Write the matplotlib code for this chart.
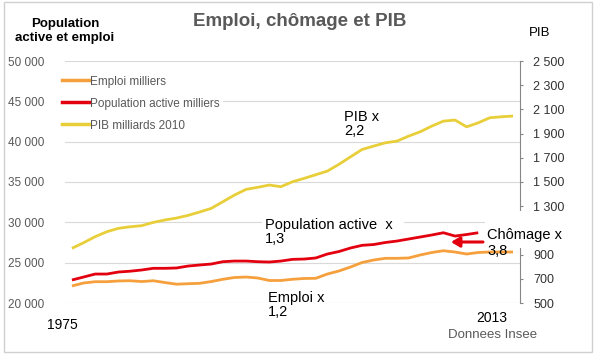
import matplotlib

matplotlib.use("Agg")
import matplotlib.pyplot as plt
from matplotlib.lines import Line2D
from matplotlib.patches import Rectangle

plt.rcParams["font.family"] = ["Liberation Sans", "DejaVu Sans"]

years = list(range(1975, 2014))

# Emploi (milliers)
emploi = [22110, 22480, 22640, 22640, 22730, 22760, 22660, 22760, 22540, 22330,
          22390, 22440, 22660, 22940, 23160, 23220, 23100, 22790, 22790, 22940,
          23040, 23060, 23590, 23970, 24460, 25020, 25330, 25540, 25540, 25580,
          25950, 26260, 26480, 26320, 26070, 26260, 26320, 26320, 26320]

# Population active (milliers), serie arretee en 2010
pop_years = list(range(1975, 2011))
pop_active = [22850, 23220, 23590, 23590, 23840, 23940, 24090, 24300, 24300, 24340,
              24580, 24710, 24830, 25120, 25200, 25200, 25120, 25080, 25200, 25410,
              25450, 25580, 26070, 26380, 26820, 27150, 27250, 27500, 27680, 27930,
              28180, 28430, 28710, 28300, 28490, 28710]

# PIB (milliards 2010)
pib = [952, 998, 1048, 1089, 1117, 1130, 1139, 1166, 1186, 1202,
       1224, 1252, 1282, 1337, 1392, 1439, 1456, 1475, 1461, 1502,
       1530, 1560, 1590, 1646, 1708, 1769, 1797, 1824, 1838, 1879,
       1915, 1962, 2003, 2012, 1956, 1989, 2031, 2039, 2045]

left_ticks = [20000, 25000, 30000, 35000, 40000, 45000, 50000]
right_ticks = [500, 700, 900, 1100, 1300, 1500, 1700, 1900, 2100, 2300, 2500]
hidden_right = [1100]  # masque par le cadre "Chômage"

C_EMPLOI = "#F5A03C"
C_POP = "#E3000F"
C_PIB = "#E8CF3A"
GRAY = "#595959"


def fmt(v):
    return f"{v:,}".replace(",", " ")


W, H = 600, 358


def fx(px):
    return px / W


def fy(py):
    return 1 - py / H


fig = plt.figure(figsize=(6, 3.58), dpi=100)
fig.patches.append(Rectangle((fx(4), fy(352)), fx(588), 350 / H, transform=fig.transFigure,
                             fill=False, edgecolor="#D0D0D0", lw=1))

ax = fig.add_axes([fx(65), fy(303), fx(455), 242 / H])
ax2 = ax.twinx()

ax.plot(years, emploi, color=C_EMPLOI, lw=2.0, solid_capstyle="butt", zorder=2)
ax.plot(pop_years, pop_active, color=C_POP, lw=2.0, solid_capstyle="butt", zorder=2)
ax2.plot(years, pib, color=C_PIB, lw=2.0, solid_capstyle="butt")

ax.set_xlim(1974.4, 2013.6)
ax.set_ylim(20000, 50000)
ax2.set_ylim(500, 2500)

ax.set_yticks(left_ticks)
ax.set_yticklabels([fmt(v) for v in left_ticks], fontsize=8.5, color=GRAY)
ax.tick_params(axis="y", length=0, pad=15)
ax.set_xticks([])
ax.grid(axis="y", color="#D9D9D9", lw=0.8)
ax.set_axisbelow(True)

ax2.set_yticks(right_ticks)
ax2.set_yticklabels(["" if v in hidden_right else fmt(v) for v in right_ticks],
                    fontsize=9, color="#333333")
ax2.tick_params(axis="y", length=2.5, width=0.8, color="#868686", pad=7)

for a in (ax, ax2):
    for s in ("top", "left", "bottom", "right"):
        a.spines[s].set_visible(False)
ax2.spines["right"].set_visible(True)
ax2.spines["right"].set_color("#868686")
ax2.spines["right"].set_linewidth(0.8)

handles = [Line2D([], [], color=C_EMPLOI, lw=2.5),
           Line2D([], [], color=C_POP, lw=2.5),
           Line2D([], [], color=C_PIB, lw=2.5)]
labels = ["Emploi milliers", "Population active milliers", "PIB milliards 2010"]
leg = ax2.legend(handles, labels, loc="upper left", bbox_to_anchor=(fx(58), fy(72)),
                 bbox_transform=fig.transFigure, fontsize=8.5, frameon=True,
                 facecolor="white", edgecolor="none", framealpha=1, fancybox=False,
                 handlelength=2.3, handletextpad=0.1, labelspacing=0.85,
                 borderpad=0.3, borderaxespad=0)
for t in leg.get_texts():
    t.set_color(GRAY)

fig.text(0.5, fy(21), "Emploi, chômage et PIB", ha="center", va="center",
         fontsize=13.5, fontweight="bold", color=GRAY)
fig.text(fx(65), fy(31), "Population\nactive et emploi", ha="center", va="center",
         fontsize=9.5, fontweight="bold", color="black", linespacing=1.15)
fig.text(fx(540), fy(33), "PIB", ha="center", va="center", fontsize=9.5, color="black")

# annotations: white boxes sit above the gridlines but below the series
tf = fig.transFigure
ANN = 10.5
ax.text(fx(344), fy(124), "PIB x\n2,2", transform=tf, ha="left", va="center",
        fontsize=ANN, linespacing=1.05, zorder=1, clip_on=False)
ax.text(fx(265), fy(232), "Population active  x  \n1,3", transform=tf, ha="left",
        va="center", fontsize=ANN, linespacing=1.05, zorder=1, clip_on=False,
        bbox=dict(facecolor="white", edgecolor="none", pad=2))
ax.text(fx(268), fy(305), "Emploi x\n1,2", transform=tf, ha="left", va="center",
        fontsize=ANN, linespacing=1.05, zorder=1, clip_on=False,
        bbox=dict(facecolor="white", edgecolor="none", pad=2))

# Chômage box covers the right axis around 1 100
fig.patches.append(Rectangle((fx(485), fy(248)), fx(100), 37 / H, transform=tf,
                             facecolor="white", edgecolor="none", zorder=1))
fig.text(fx(487), fy(235), "Chômage x", ha="left", va="center", fontsize=ANN, zorder=3)
fig.text(fx(487), fy(251), "3,8", ha="left", va="center", fontsize=ANN, zorder=3)

ax2.annotate("", xy=(fx(451), fy(242)), xytext=(fx(483), fy(242)),
             xycoords="figure fraction", textcoords="figure fraction",
             arrowprops=dict(arrowstyle="-|>,head_length=0.5,head_width=0.3",
                             color=C_POP, lw=2.2, shrinkA=0, shrinkB=0))

fig.text(fx(62), fy(325), "1975", ha="center", va="center", fontsize=10)
fig.text(fx(492), fy(318), "2013", ha="center", va="center", fontsize=10)
fig.text(fx(493), fy(335), "Donnees Insee", ha="center", va="center", fontsize=9.5,
         color=GRAY)

fig.savefig("out.png", dpi=100)
